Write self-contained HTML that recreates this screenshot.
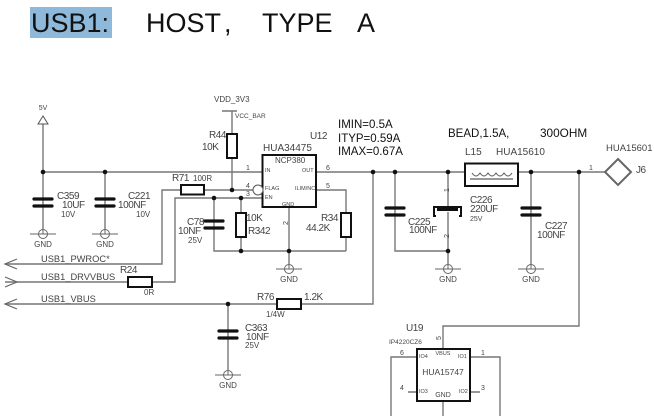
<!DOCTYPE html>
<html><head><meta charset="utf-8"><style>
html,body{margin:0;padding:0;background:#fff;width:654px;height:416px;overflow:hidden}
svg{display:block;position:absolute;left:0;top:0;filter:blur(.3px)}
text{font-family:"Liberation Sans",sans-serif;fill:#444}
.w{stroke:#777;stroke-width:1.4;fill:none}
.b{stroke:#111;stroke-width:2;fill:#fff}
.p{stroke:#111;stroke-width:3.2;fill:none;stroke-linecap:round}
.g{stroke:#666;stroke-width:1;fill:none}
.s{font-size:7px}.m{font-size:9.300px}.l{font-size:10px;letter-spacing:-.45px}
.h{font-size:10px}
.d{font-size:11.500px;fill:#111}
</style></head><body>
<svg width="654" height="416" viewBox="0 0 654 416">
<defs>
<g id="gnd"><path class="g" d="M-13 0H13M0 -5V0"/><circle class="g" cx="0" cy="0" r="4.5"/><text class="s" x="0" y="13" text-anchor="middle" style="font-size:8px">GND</text></g>
<g id="cap"><path class="p" d="M-9 -3.500H9M-9 3.500H9"/></g>
</defs>
<rect x="30" y="7" width="82" height="31" fill="#8fb9da"/>
<text x="31" y="32" font-size="27" style="fill:#111">USB1:</text>
<text x="146" y="32" font-size="27" style="fill:#111">HOST</text>
<text x="224" y="32" font-size="27" style="fill:#111">,</text>
<text x="262" y="32" font-size="27" style="fill:#111">TYPE</text>
<text x="357" y="32" font-size="27" style="fill:#111">A</text>

<path class="w" d="M43 124V229M105 172V229M43 172H262M316 172H464M518 172H605"/>
<path d="M43 116L38 124H48Z" fill="#fff" stroke="#555"/>
<path class="w" d="M5 264H162V190H181M204 190H253M232 111V190M222 111H237"/>
<path class="w" d="M5 282H128M152 282H175V198H262"/>
<path class="w" d="M214 198V251H346M241 198V251M289 207V264M316 190H346V251"/>
<path class="w" d="M5 304H277M301 304H373V172M228 304V370"/>
<path class="w" d="M395 172V251H448M448 172V264M531 172V264"/>
<path class="w" d="M579 172V326H443V349M417 357H391V416M470 357H500V416M417 392H408M470 392H480M443 401V416"/>
<path class="g" d="M17 259L5 264L17 269M5 277L17 282L5 287M17 299L5 304L17 309" style="stroke-width:1.2"/>

<g fill="#111">
<circle cx="43" cy="172" r="2.3"/><circle cx="105" cy="172" r="2.3"/><circle cx="214" cy="198" r="2.3"/><circle cx="232" cy="190" r="2.3"/><circle cx="241" cy="198" r="2.3"/><circle cx="241" cy="251" r="2.3"/><circle cx="289" cy="251" r="2.3"/><circle cx="373" cy="172" r="2.3"/><circle cx="395" cy="172" r="2.3"/><circle cx="448" cy="172" r="2.3"/><circle cx="448" cy="251" r="2.3"/><circle cx="531" cy="172" r="2.3"/><circle cx="579" cy="172" r="2.3"/><circle cx="228" cy="304" r="2.3"/>
</g>

<use href="#cap" x="43" y="202.500"/><use href="#cap" x="105" y="202.500"/><use href="#cap" x="214" y="224.500"/><use href="#cap" x="395" y="211.500"/><use href="#cap" x="531" y="211.500"/><use href="#cap" x="228" y="334.500"/>
<rect x="434" y="207" width="27" height="9" fill="#fff" stroke="#111" stroke-width="2"/>
<rect x="437" y="207" width="21" height="4" fill="#111"/>
<rect x="436" y="212" width="23" height="5" fill="#fff"/>
<path d="M448 212V217" stroke="#777" stroke-width="1.4"/>

<use href="#gnd" x="43" y="234"/><use href="#gnd" x="105" y="234"/><use href="#gnd" x="289" y="269"/><use href="#gnd" x="448" y="269"/><use href="#gnd" x="531" y="269"/><use href="#gnd" x="228" y="375"/>

<rect class="b" x="181" y="185" width="23" height="9.500"/>
<rect class="b" x="227" y="134" width="10" height="24"/>
<rect class="b" x="236" y="213" width="10" height="24"/>
<rect class="b" x="341" y="213" width="10" height="24"/>
<rect class="b" x="128" y="277" width="24" height="10"/>
<rect class="b" x="277" y="299" width="24" height="10"/>
<rect class="b" x="262.500" y="155" width="53.500" height="52"/>
<circle cx="258" cy="190" r="5" fill="#fff" stroke="#555"/>
<rect class="b" x="465" y="163.500" width="53" height="22.500"/>
<path d="M472 173q4 6 8 0q4 6 8 0q4 6 8 0q4 6 8 0q4 6 8 0" fill="none" stroke="#555"/>
<path d="M470 179H513" stroke="#999" stroke-width="2"/>
<path d="M618 159L631 172L618 185L605 172Z" fill="#fff" stroke="#666" stroke-width="2"/>
<rect class="b" x="417" y="349" width="53" height="52"/>

<text class="s" x="43" y="110" text-anchor="middle">5V</text>
<text class="l" x="57" y="199">C359</text><text class="l" x="62" y="208">10UF</text><text class="s" x="61" y="217" style="font-size:8px">10V</text>
<text class="l" x="128" y="199">C221</text><text class="l" x="118" y="208">100NF</text><text class="s" x="136" y="217" style="font-size:8px">10V</text>
<text class="l" x="172" y="181">R71</text><text class="s" x="193" y="181" style="font-size:8px">100R</text>
<text class="l" x="187" y="225">C78</text><text class="l" x="178" y="234">10NF</text><text class="s" x="188" y="243" style="font-size:8px">25V</text>
<text class="s" x="214" y="102" style="font-size:8px">VDD_3V3</text><text x="235" y="118" style="font-size:6.500px">VCC_BAR</text>
<text class="l" x="209" y="138">R44</text><text class="l" x="202" y="150">10K</text>
<text class="l" x="310" y="139">U12</text><text class="h" x="263" y="151">HUA34475</text>
<text class="m" x="275" y="163" style="font-size:8px">NCP380</text>
<text x="265" y="172" style="font-size:5.500px">IN</text><text x="302" y="172" style="font-size:5.500px">OUT</text>
<text x="265" y="190" style="font-size:5.500px">FLAG</text><text x="265" y="199" style="font-size:5.500px">EN</text>
<text x="295" y="190" style="font-size:5.500px">ILIM/NC</text><text x="282" y="206" style="font-size:5.500px">GND</text>
<text class="s" x="246" y="170">1</text><text class="s" x="246" y="188">4</text><text class="s" x="246" y="196">3</text><text class="s" x="326" y="170">6</text><text class="s" x="326" y="188">5</text>
<text class="s" transform="translate(288 225) rotate(-90)">2</text>
<text class="l" x="246" y="221">10K</text><text class="l" x="248" y="234">R342</text>
<text class="l" x="321" y="221">R34</text><text class="l" x="306" y="231">44.2K</text>
<text class="d" x="338" y="128">IMIN=0.5A</text><text class="d" x="338" y="142">ITYP=0.59A</text><text class="d" x="338" y="155">IMAX=0.67A</text>
<text class="d" x="448" y="137">BEAD,1.5A,</text><text class="d" x="540" y="137" style="font-size:11.800px">300OHM</text>
<text class="h" x="465" y="155">L15</text><text class="h" x="496" y="155">HUA15610</text>
<text class="h" x="606" y="151" style="font-size:9.500px">HUA15601</text><text class="l" x="636" y="173">J6</text><text class="s" x="589" y="170">1</text>
<text class="s" transform="translate(449 192) rotate(-90)">1</text><text class="s" transform="translate(449 238) rotate(-90)">2</text>
<text class="l" x="470" y="203">C226</text><text class="l" x="470" y="212">220UF</text><text class="s" x="470" y="221">25V</text>
<text class="l" x="408" y="225">C225</text><text class="l" x="409" y="233">100NF</text>
<text class="l" x="545" y="229">C227</text><text class="l" x="537" y="238">100NF</text>
<text class="m" x="41" y="262">USB1_PWROC*</text><text class="m" x="41" y="280">USB1_DRVVBUS</text><text class="m" x="41" y="302">USB1_VBUS</text>
<text class="l" x="120" y="273">R24</text><text class="s" x="144" y="295" style="font-size:8px">0R</text>
<text class="l" x="257" y="300">R76</text><text class="l" x="304" y="300">1.2K</text><text class="s" x="266" y="317" style="font-size:8px">1/4W</text>
<text class="l" x="245" y="331">C363</text><text class="l" x="246" y="340">10NF</text><text class="s" x="245" y="348" style="font-size:8px">25V</text>
<text class="l" x="406" y="331">U19</text><text x="389" y="344" style="font-size:6.500px">IP4220CZ6</text>
<text class="s" transform="translate(441 340) rotate(-90)">5</text>
<text class="s" x="400" y="355">6</text><text class="s" x="481" y="355">1</text><text class="s" x="400" y="390">4</text><text class="s" x="481" y="390">3</text>
<text x="419" y="358" style="font-size:5.500px">IO4</text><text x="443" y="355" text-anchor="middle" style="font-size:5.500px">VBUS</text><text x="458" y="358" style="font-size:5.500px">IO1</text>
<text x="419" y="393" style="font-size:5.500px">IO3</text><text x="459" y="393" style="font-size:5.500px">IO2</text><text x="443" y="397" text-anchor="middle" style="font-size:7px">GND</text>
<text class="s" x="443" y="375" text-anchor="middle" style="font-size:8.500px">HUA15747</text>
</svg>
</body></html>
